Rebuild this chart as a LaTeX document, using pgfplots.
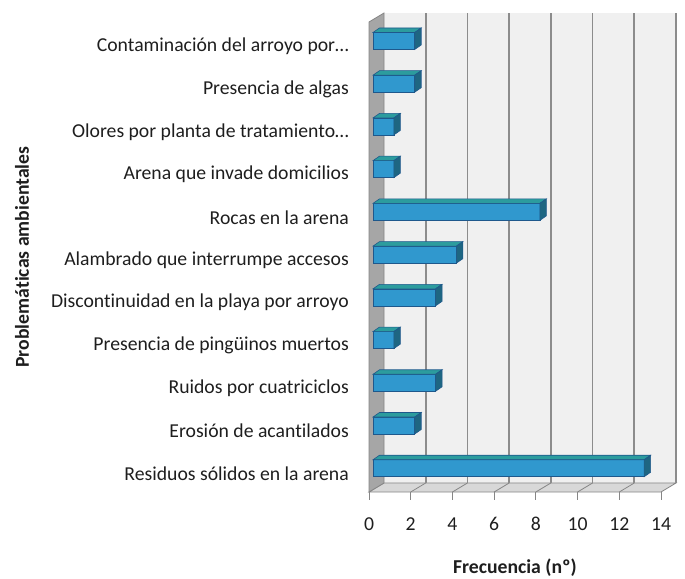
\documentclass[border=0pt]{standalone}
\usepackage{pgfplots}
\pgfplotsset{compat=1.18}
\usepackage{pgfplotstable}
\usepackage{fontspec}
\setmainfont{Carlito}[Ligatures=NoCommon]
\definecolor{wallc}{RGB}{240,240,240}
\definecolor{floorc}{RGB}{216,216,216}
\definecolor{sidec}{RGB}{166,166,166}
\definecolor{framec}{RGB}{134,134,134}
\definecolor{gridc}{RGB}{140,140,140}
\definecolor{frontc}{RGB}{48,152,206}
\definecolor{topc}{RGB}{44,156,158}
\definecolor{rightc}{RGB}{30,102,130}
\definecolor{edgec}{RGB}{30,88,140}
\definecolor{txt}{RGB}{30,30,30}

\pgfplotstableread{
y v
0 13
1 2
2 3
3 1
4 3
5 4
6 8
7 1
8 1
9 2
10 2
}\data

\begin{document}
\begin{tikzpicture}[font=\fontsize{19.7bp}{23bp}\selectfont]
\path[use as bounding box] (0,0) rectangle (685bp,579bp);
\begin{axis}[
  at={(369bp,87bp)}, anchor=south west,
  scale only axis, width=292bp, height=470bp,
  xmin=0, xmax=14, ymin=-0.5, ymax=10.5,
  clip=false,
  axis line style={draw=none},
  major tick length=0pt,
  tick style={draw=none},
  xtick={0,2,...,14},
  ytick={0,...,10},
  yticklabels={Residuos sólidos en la arena, Erosión de acantilados, Ruidos por cuatriciclos, Presencia de pingüinos muertos, Discontinuidad en la playa por arroyo, Alambrado que interrumpe accesos, Rocas en la arena, Arena que invade domicilios, Olores por planta de tratamiento…, Presencia de algas, Contaminación del arroyo por…},
  /pgf/number format/assume math mode=true,
  ticklabel style={font=\fontsize{19.7bp}{23bp}\selectfont, text=txt},
  xticklabel style={anchor=center, inner sep=0pt, yshift=-32bp},
  yticklabel style={anchor=east, inner sep=0pt, xshift=-20bp, yshift=-3bp},
  xlabel={Frecuencia (nº)},
  ylabel={Problemáticas ambientales},
  every axis x label/.style={at={(axis description cs:0.5,0)}, yshift=-76bp, anchor=center, font=\fontsize{19.7bp}{23bp}\selectfont\bfseries, text=txt},
  every axis y label/.style={at={(axis description cs:0,0.5)}, xshift=-347bp, rotate=90, anchor=center, font=\fontsize{19.7bp}{23bp}\selectfont\bfseries, text=txt},
]
% back wall
\fill[wallc] ([shift={(15bp,9bp)}]axis cs:0,-0.5) rectangle ([shift={(15bp,9bp)}]axis cs:14,10.5);
\pgfplotsinvokeforeach{2,4,...,14}{
  \draw[gridc, line width=1.6bp] ([shift={(15bp,9bp)}]axis cs:#1,-0.5) -- ([shift={(15bp,9bp)}]axis cs:#1,10.5);
}
% floor
\filldraw[fill=floorc, draw=framec, line width=0.8bp] (axis cs:0,-0.5) -- (axis cs:14,-0.5) -- ([shift={(15bp,9bp)}]axis cs:14,-0.5) -- ([shift={(15bp,9bp)}]axis cs:0,-0.5) -- cycle;
\pgfplotsinvokeforeach{2,4,...,12}{
  \draw[framec, line width=0.8bp] (axis cs:#1,-0.5) -- ([shift={(15bp,9bp)}]axis cs:#1,-0.5);
}
\pgfplotsinvokeforeach{0,2,...,14}{
  \draw[framec, line width=0.8bp] (axis cs:#1,-0.5) -- ([yshift=-8bp]axis cs:#1,-0.5);
}
% side wall
\filldraw[fill=sidec, draw=framec, line width=0.8bp] (axis cs:0,-0.5) -- (axis cs:0,10.5) -- ([shift={(15bp,9bp)}]axis cs:0,10.5) -- ([shift={(15bp,9bp)}]axis cs:0,-0.5) -- cycle;
% bars: front faces
\addplot[xbar, bar width=17bp, bar shift=2.4bp, xshift=4bp, fill=frontc, draw=edgec, line width=0.6bp] table[x=v, y=y]{\data};
% bars: top and side faces
\pgfplotsinvokeforeach{0,...,10}{
  \pgfplotstablegetelem{#1}{v}\of\data
  \pgfmathsetmacro\xa{0.1918}
  \pgfmathsetmacro\xb{\pgfplotsretval+0.1918}
  \pgfmathsetmacro\xc{\pgfplotsretval+0.1918+0.3116}
  \pgfmathsetmacro\xd{0.1918+0.3116}
  \pgfmathsetmacro\ya{#1+0.056-0.199}
  \pgfmathsetmacro\yb{#1+0.056+0.199}
  \pgfmathsetmacro\yc{#1+0.056-0.199+0.1053}
  \pgfmathsetmacro\yd{#1+0.056+0.199+0.1053}
  \addplot[fill=topc, draw=edgec, line width=0.6bp] coordinates {(\xa,\yb) (\xb,\yb) (\xc,\yd) (\xd,\yd)} -- cycle;
  \addplot[fill=rightc, draw=edgec, line width=0.6bp] coordinates {(\xb,\ya) (\xc,\yc) (\xc,\yd) (\xb,\yb)} -- cycle;
}
\end{axis}
\end{tikzpicture}
\end{document}
